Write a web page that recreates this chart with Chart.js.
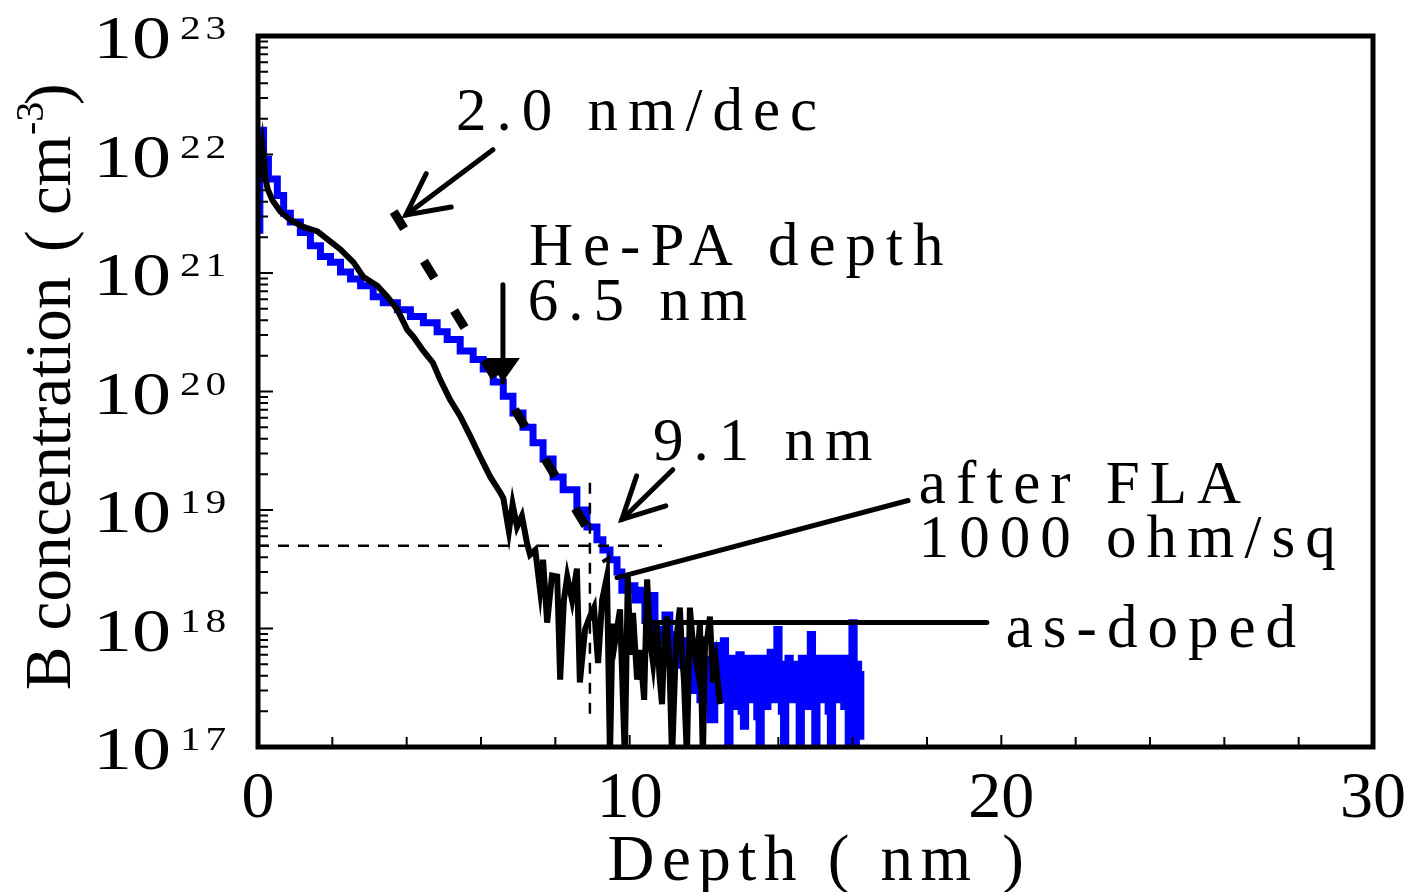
<!DOCTYPE html>
<html>
<head>
<meta charset="utf-8">
<script src="https://cdn.jsdelivr.net/npm/chart.js@4.4.0/dist/chart.umd.min.js"></script>
<style>
body { margin: 0; background: #fff; }
canvas { display: block; }
</style>
</head>
<body>
<canvas id="chart" width="1405" height="892"></canvas>
<script>
// after FLA (blue) - depth in nm, B concentration in cm^-3
const flaDepth = [0.02, 0.05, 0.08, 0.15, 0.28, 0.52, 0.69, 0.87, 1.14, 1.41, 1.68, 1.95, 2.22, 2.49, 2.76,
  3.10, 3.37, 3.75, 4.10, 4.45, 4.82, 5.09, 5.44, 5.79, 6.06, 6.33, 6.60, 6.86, 7.13, 7.40, 7.67, 7.94,
  8.21, 8.58, 8.85, 9.12, 9.28, 9.47, 9.66, 9.79,
  9.95, 10.14, 10.28, 10.41, 10.55, 10.68, 10.81, 10.95, 11.08, 11.22, 11.35, 11.49, 11.62, 11.75, 11.89,
  12.02, 12.16, 12.29,
  12.40, 12.46, 12.52, 12.58, 12.64, 12.70, 12.76, 12.82, 12.88, 12.94, 13.00, 13.06, 13.12, 13.18, 13.24,
  13.30, 13.36, 13.42, 13.48, 13.54, 13.60, 13.66, 13.72, 13.78, 13.84, 13.90, 13.96, 14.02, 14.08, 14.14,
  14.20, 14.26, 14.32, 14.38, 14.44, 14.50, 14.56, 14.62, 14.68, 14.74, 14.80, 14.86, 14.92, 14.98, 15.04,
  15.10, 15.16, 15.22, 15.28, 15.34, 15.40, 15.46, 15.52, 15.58, 15.64, 15.70, 15.76, 15.82, 15.88, 15.94,
  15.98, 16.04, 16.10, 16.16, 16.22];
const flaConc = [2.3e21, 9.1e21, 1.6e22, 9.1e21, 6.2e21, 4.5e21, 3.2e21, 2.7e21, 2.2e21, 1.7e21, 1.38e21, 1.23e21, 1.02e21, 8.9e20, 7.8e20,
  6.3e20, 5.6e20, 4.9e20, 4.3e20, 3.8e20, 3.2e20, 2.75e20, 2.2e20, 1.86e20, 1.55e20, 1.2e20, 9.1e19, 6.6e19, 5.0e19, 3.7e19, 2.7e19, 1.9e19,
  1.48e19, 1.0e19, 7.2e18, 5.6e18, 4.6e18, 3.8e18, 3.0e18, 2.1e18,
  2.3e18, 1.74e18, 2.1e18, 1.17e18, 1.9e18, 9.8e17, 7.9e17, 1.3e18, 5.5e17, 8.9e17, 4.9e17, 7.9e17, 3.0e17, 6.6e17, 2.5e17,
  5.5e17, 1.7e17, 7.2e17,
  2.5e17, 5.6e17, 7.9e17, 3.0e17, 1.1e17, 5.0e17, 5.6e17, 2.2e17, 5.0e17, 6.0e17, 2.0e17, 1.5e17, 5.0e17, 5.6e17, 2.5e17,
  5.0e17, 5.6e17, 1.8e17, 8e16, 4.5e17, 5.6e17, 2.2e17, 5.0e17, 6.3e17, 2.5e17, 5.6e17, 9.8e17, 5.0e17, 2.0e17, 8e16,
  5.0e17, 5.6e17, 2.5e17, 5.0e17, 3.5e17, 5.0e17, 1.1e17, 5.6e17, 5.6e17, 2.2e17, 5.6e17, 8.9e17, 5.0e17, 8e16, 5.0e17,
  5.6e17, 2.5e17, 5.0e17, 5.6e17, 2.0e17, 8e16, 5.0e17, 5.6e17, 2.5e17, 5.0e17, 5.6e17, 2.2e17, 5.0e17, 8e16, 5.6e17,
  1.12e18, 8e16, 5.0e17, 4.1e17, 1.15e17];

// as-doped (black)
const asDepth = [0.03, 0.12, 0.20, 0.26, 0.39, 0.60, 0.87, 1.22, 1.60, 1.89, 2.22, 2.57, 2.83, 3.21, 3.48,
  3.75, 4.02, 4.18, 4.45, 4.71, 4.90, 5.17, 5.44, 5.71, 5.98, 6.25, 6.52, 6.60, 6.75, 6.85, 6.97, 7.10, 7.24,
  7.32, 7.46, 7.59, 7.67, 7.78, 7.91, 8.05, 8.13, 8.23, 8.32, 8.45, 8.58, 8.66, 8.80, 8.93, 9.04, 9.15,
  9.26, 9.39, 9.47, 9.54, 9.61, 9.74, 9.87, 9.95, 10.02, 10.09, 10.20, 10.28, 10.39, 10.47, 10.55, 10.63, 10.73, 10.80, 10.87,
  10.94, 11.00, 11.07, 11.14, 11.25, 11.35, 11.41, 11.46, 11.54, 11.62, 11.68, 11.73, 11.81, 11.89, 11.97, 12.03, 12.08, 12.16, 12.24, 12.32, 12.43];
const asConc = [6.3e21, 1.12e22, 6.3e21, 5.1e21, 4.1e21, 3.3e21, 2.8e21, 2.45e21, 2.24e21, 1.9e21, 1.58e21, 1.23e21, 9.3e20, 7.8e20, 6.3e20,
  4.9e20, 3.3e20, 2.9e20, 2.2e20, 1.74e20, 1.26e20, 8.5e19, 6.2e19, 4.2e19, 2.8e19, 1.9e19, 1.4e19, 1.26e19, 6.6e18, 1.12e19, 7.2e18, 8.9e18, 5.2e18,
  4.2e18, 4.6e18, 2.1e18, 3.8e18, 1.12e18, 2.8e18, 2.75e18, 3.7e17, 1.74e18, 2.75e18, 1.74e18, 3.2e18, 3.5e17, 9.8e17, 1.26e18, 1.5e18, 5.1e17,
  1.74e18, 2.75e18, 8e16, 1.1e18, 7.9e17, 1.45e18, 8e16, 2.75e18, 6.0e17, 1.35e18, 3.7e17, 6.6e17, 2.5e17, 2.6e18, 7.9e17, 5.1e17, 1.17e18, 4.0e17, 2.3e17,
  9.0e17, 1.26e18, 5.0e17, 8e16, 7.9e17, 1.5e18, 6.0e17, 3.7e17, 8e16, 1.5e18, 9.0e17, 6.6e17, 4.8e17, 1.12e18, 8e16, 8.0e17, 7.9e17, 1.26e18, 3.5e17, 5.1e17, 2.3e17];

// 2.0 nm/dec guide line
const fitDepth = [3.65, 9.40];
const fitConc = [3.3e21, 3.7e18];

// dashed guides at 9 nm / 5e18
const hGuideDepth = [0, 10.87];
const hGuideConc = [5e18, 5e18];
const vGuideDepth = [8.93, 8.93];
const vGuideConc = [1.7e19, 1.7e17];

const xTicks = [0, 10, 20, 30];
const yDecades = [17, 18, 19, 20, 21, 22, 23];

// annotations: [depth nm, log10 conc]
const notes = [
  { text: '2.0 nm/dec', at: [5.33, 22.21] },
  { text: 'He-PA depth', at: [7.29, 21.07] },
  { text: '6.5 nm', at: [7.26, 20.60] },
  { text: '9.1 nm', at: [10.63, 19.42] },
  { text: 'after FLA', at: [17.78, 19.06] },
  { text: '1000 ohm/sq', at: [17.78, 18.60] },
  { text: 'as-doped', at: [20.12, 17.84] }
];
const arrows = [
  { from: [6.32, 22.04], to: [3.98, 21.49], head: 'open' },
  { from: [6.59, 20.90], to: [6.59, 20.08], head: 'filled' },
  { from: [11.16, 19.34], to: [9.79, 18.92], head: 'open' }
];
const pointers = [
  { from: [9.66, 18.43], to: [17.49, 19.08] },
  { from: [10.41, 18.05], to: [19.61, 18.05] }
];

function pts(xs, ys) {
  return xs.map((x, i) => ({ x: x, y: ys[i] }));
}

const serif = '"Liberation Serif"';

const framePlugin = {
  id: 'frame',
  afterDraw(chart) {
    const ctx = chart.ctx;
    const a = chart.chartArea;
    const xs = chart.scales.x, ys = chart.scales.y;
    const X = v => xs.getPixelForValue(v);
    const Y = l => ys.getPixelForValue(Math.pow(10, l));
    ctx.save();
    ctx.fillStyle = '#000';
    ctx.strokeStyle = '#000';

    // ticks
    ctx.lineWidth = 2;
    ctx.beginPath();
    for (let d = 17; d < 23; d++) {
      for (let m = 1; m <= 9; m++) {
        const yp = ys.getPixelForValue(m * Math.pow(10, d));
        const len = m === 1 ? 15 : 10;
        ctx.moveTo(a.left, yp);
        ctx.lineTo(a.left + len, yp);
      }
    }
    for (let v = 2; v < 30; v += 2) {
      const xp = X(v);
      const len = v % 10 === 0 ? 12 : 10;
      ctx.moveTo(xp, a.bottom);
      ctx.lineTo(xp, a.bottom - len);
    }
    ctx.stroke();

    // frame
    ctx.lineWidth = 5;
    ctx.strokeRect(a.left, a.top, a.right - a.left, a.bottom - a.top);

    // y tick labels
    ctx.textAlign = 'left';
    ctx.textBaseline = 'alphabetic';
    yDecades.forEach(d => {
      const yp = Y(d);
      ctx.save();
      ctx.translate(93, yp + 22);
      ctx.scale(1.28, 1);
      ctx.font = '61px ' + serif;
      ctx.fillText('10', 0, 0);
      ctx.restore();
      ctx.save();
      ctx.translate(180, yp + 3);
      ctx.scale(1.22, 1);
      ctx.font = '34px ' + serif;
      ctx.letterSpacing = '4px';
      ctx.fillText(String(d), 0, 0);
      ctx.restore();
    });

    // x tick labels
    ctx.font = '66px ' + serif;
    ctx.textAlign = 'center';
    xTicks.forEach(v => ctx.fillText(String(v), X(v), 817));

    // x title
    ctx.save();
    ctx.font = '65px ' + serif;
    ctx.letterSpacing = '7.5px';
    ctx.fillText('Depth ( nm )', (a.left + a.right) / 2 + 4, 880);
    ctx.restore();

    // y title
    ctx.save();
    ctx.translate(70, 690);
    ctx.rotate(-Math.PI / 2);
    ctx.textAlign = 'left';
    ctx.font = '65px ' + serif;
    ctx.fillText('B concentration', 0, 0);
    ctx.fillText('(', 438, 0);
    ctx.fillText('cm', 475, 0);
    ctx.fillText(')', 585, 0);
    ctx.font = '40px ' + serif;
    ctx.fillText('-3', 555, -27);
    ctx.restore();

    // annotation texts
    ctx.save();
    ctx.textAlign = 'left';
    ctx.font = '61px ' + serif;
    ctx.letterSpacing = '10px';
    notes.forEach(n => ctx.fillText(n.text, X(n.at[0]), Y(n.at[1])));
    ctx.restore();

    // pointer lines
    ctx.lineWidth = 5;
    ctx.lineCap = 'round';
    pointers.forEach(p => {
      ctx.beginPath();
      ctx.moveTo(X(p.from[0]), Y(p.from[1]));
      ctx.lineTo(X(p.to[0]), Y(p.to[1]));
      ctx.stroke();
    });

    // arrows
    arrows.forEach(ar => {
      const x1 = X(ar.from[0]), y1 = Y(ar.from[1]);
      const x2 = X(ar.to[0]), y2 = Y(ar.to[1]);
      const ang = Math.atan2(y1 - y2, x1 - x2);
      ctx.lineWidth = 5;
      ctx.beginPath();
      ctx.moveTo(x1, y1);
      ctx.lineTo(x2, y2);
      ctx.stroke();
      if (ar.head === 'open') {
        const L = 46, h = 27 * Math.PI / 180;
        ctx.beginPath();
        ctx.moveTo(x2 + L * Math.cos(ang - h), y2 + L * Math.sin(ang - h));
        ctx.lineTo(x2, y2);
        ctx.lineTo(x2 + L * Math.cos(ang + h), y2 + L * Math.sin(ang + h));
        ctx.stroke();
      } else {
        const L = 24, W = 17;
        const bx = x2 + L * Math.cos(ang), by = y2 + L * Math.sin(ang);
        ctx.beginPath();
        ctx.moveTo(x2, y2);
        ctx.lineTo(bx + W * Math.sin(ang), by - W * Math.cos(ang));
        ctx.lineTo(bx - W * Math.sin(ang), by + W * Math.cos(ang));
        ctx.closePath();
        ctx.fill();
      }
    });
    ctx.restore();
  }
};

function drawChart() {
  new Chart(document.getElementById('chart'), {
    type: 'line',
    data: {
      datasets: [
        { label: 'after FLA', data: pts(flaDepth, flaConc), borderColor: '#0000ff', borderWidth: 7, stepped: true, order: 3 },
        { label: 'as-doped', data: pts(asDepth, asConc), borderColor: '#000000', borderWidth: 6, order: 2 },
        { label: '2.0 nm/dec', data: pts(fitDepth, fitConc), borderColor: '#000000', borderWidth: 9, borderDash: [20, 38], order: 1 },
        { label: 'h guide', data: pts(hGuideDepth, hGuideConc), borderColor: '#000000', borderWidth: 2.5, borderDash: [11, 9], order: 0 },
        { label: 'v guide', data: pts(vGuideDepth, vGuideConc), borderColor: '#000000', borderWidth: 2.5, borderDash: [11, 9], order: 0 }
      ]
    },
    options: {
      responsive: false,
      animation: false,
      layout: { padding: { left: 258, top: 36, right: 32, bottom: 145 } },
      elements: { point: { radius: 0 }, line: { tension: 0, fill: false, borderJoinStyle: 'miter' } },
      plugins: { legend: { display: false }, tooltip: { enabled: false } },
      scales: {
        x: { type: 'linear', min: 0, max: 30, display: false },
        y: { type: 'logarithmic', min: 1e17, max: 1e23, display: false }
      }
    },
    plugins: [framePlugin]
  });
}

Promise.all([
  document.fonts.load('61px "Liberation Serif"'),
  document.fonts.load('34px "Liberation Serif"')
]).then(drawChart, drawChart);
</script>
</body>
</html>
